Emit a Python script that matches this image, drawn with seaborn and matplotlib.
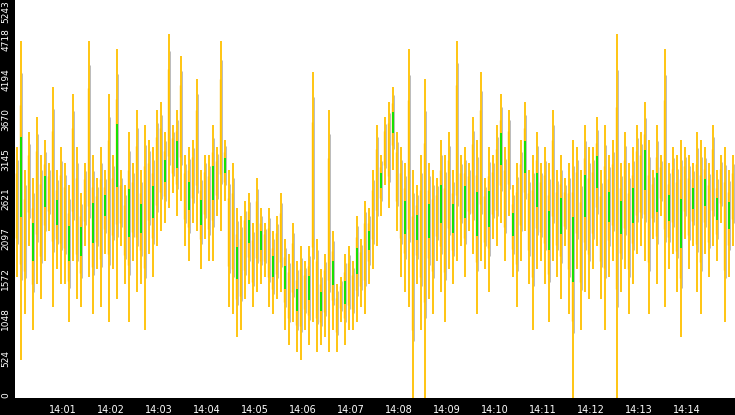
import matplotlib
matplotlib.use("Agg")
import matplotlib.pyplot as plt
import seaborn as sns
import numpy as np

sns.set_style("white")
plt.rcParams['font.family'] = ['DejaVu Sans']

highs = [3300,4700,3000,3500,2900,3700,3200,3400,3100,4100,3000,3300,
         3100,2800,4000,3300,2700,3100,4700,3200,2900,3300,3000,4000,
         3200,4600,3000,2800,3500,3100,3800,3000,3600,3400,3300,3800,
         3900,3500,4800,3600,3800,4500,3200,3300,3400,4200,3000,3200,
         3200,3600,3300,4700,3400,3000,3100,2500,2400,2600,2700,2300,
         2900,2500,2300,2500,2200,2400,2700,2100,1900,2300,1800,2000,
         1800,2000,4300,2100,1700,1900,3800,2200,1500,1600,1900,2000,
         1800,2400,2100,2600,2500,3000,3600,3200,3700,3900,4100,3500,
         3300,3100,4600,3000,2800,3200,4200,3100,3000,2900,3400,3200,
         3500,3000,4700,3200,3300,3100,3700,3400,4300,2900,3300,3200,
         3600,4000,3300,3800,2800,3100,3400,3900,3000,3200,3500,3100,
         3300,3100,3800,3000,3200,2900,3100,3400,3300,3000,3600,3300,
         3300,3700,3000,3600,3200,3400,4800,3100,3500,3100,3300,3600,
         3500,3900,3400,3000,3600,3200,4600,3100,3300,3200,3400,3300,
         3200,3100,3500,3400,3300,3100,3600,3000,3200,3300,3000,3200]
lows = [1600,500,1100,2000,900,1500,1300,1800,2200,1200,1700,1500,
        1500,1000,1800,1300,1200,2000,1600,1100,1700,1200,1900,1000,
        1700,1300,2000,1500,1000,1800,1400,1500,900,1900,1600,2000,
        2200,2300,2500,2700,2400,2600,2000,1800,2300,2200,1700,2100,
        1800,1800,2400,2200,2600,1200,1100,800,900,1300,1500,1200,
        1400,1500,1600,1200,1100,1300,1400,900,700,1000,600,500,
        900,700,1000,600,700,800,600,900,600,1000,700,900,
        900,1000,1200,1100,1500,1700,2000,2400,2800,2500,3000,2200,
        1600,1400,1200,0,1500,900,0,1300,1100,1800,1400,1000,
        1700,1500,1800,2000,1600,2200,1900,1100,1800,1700,1400,2100,
        2000,2300,1800,2400,1600,1200,1800,2200,1500,900,1700,1800,
        1500,1000,1800,1600,1300,2000,1100,0,1700,900,1400,1300,
        1700,2000,1300,900,1600,1800,0,1400,1700,1100,1500,1900,
        2000,1800,1100,2100,1500,2400,1200,1700,1900,1400,800,2100,
        1700,2000,1400,1100,1900,1600,2000,1800,2300,1000,1600,2000]
ytick_vals = [0,524,1048,1572,2097,2621,3145,3670,4194,4718,5243]
xtick_labels = ["14:%02d" % m for m in range(1, 15)]

highs = np.array(highs); lows = np.array(lows)
n = len(highs)
x = np.arange(n) * (5/60) + 2.5/60

fig = plt.figure(figsize=(7.35, 4.15), dpi=100, facecolor="black")
ax = fig.add_axes([15/735, 17/415, 720/735, 398/415])
ax.set_facecolor("white")
ax.vlines(x + 1.2/60, lows + 0.25*(highs-lows), highs - 0.1*(highs-lows), color="#b0b0b0", lw=0.6)
ax.vlines(x, lows, highs, color="#FFC000", lw=1.3)
ax.vlines(x - 1.5/60, lows + 0.3*(highs-lows), highs - 0.2*(highs-lows), color="#FFC000", lw=1.0)
g = np.arange(n) % 3 == 1
mid_lo = lows + 0.45*(highs-lows); mid_hi = lows + 0.7*(highs-lows)
ax.vlines(x[g] + 0.6/60, mid_lo[g], mid_hi[g], color="#00E600", lw=1.3)

ax.set_xlim(0, 15)
ax.set_ylim(0, 5243)
ax.set_xticks(range(1, 15))
ax.set_xticklabels(xtick_labels, color="white", fontsize=7)
ax.set_yticks(ytick_vals)
labels = ax.set_yticklabels([str(v) for v in ytick_vals], color="white", fontsize=6.5, rotation=90, va="center")
labels[-1].set_va("top")
labels[0].set_va("bottom")
ax.tick_params(axis="y", direction="out", length=3, width=1, colors="white", pad=0.5)
ax.tick_params(axis="x", direction="out", length=4, width=1, colors="white", pad=1)
for s in ax.spines.values():
    s.set_visible(False)
fig.savefig("out.png", dpi=100, facecolor="black")
